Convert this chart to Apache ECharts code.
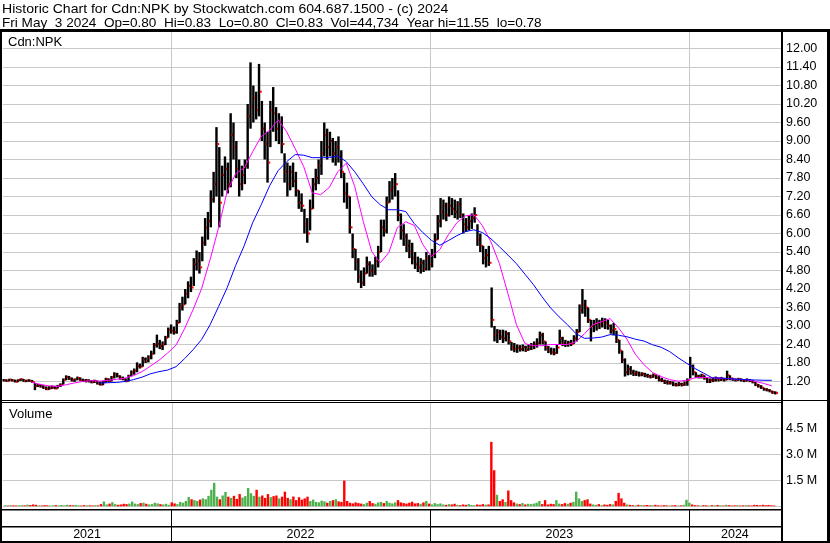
<!DOCTYPE html>
<html><head><meta charset="utf-8">
<script src="https://cdn.jsdelivr.net/npm/echarts@6/dist/echarts.min.js"></script>
<style>html,body{margin:0;padding:0;background:#fff}#c{width:830px;height:543px}</style>
</head><body><div id="c"></div>
<script>
const titleLine1 = 'Historic Chart for Cdn:NPK by Stockwatch.com 604.687.1500 - (c) 2024';
const titleLine2 = 'Fri May  3 2024  Op=0.80  Hi=0.83  Lo=0.80  Cl=0.83  Vol=44,734  Year hi=11.55  lo=0.78';
const symbolLabel = 'Cdn:NPK';
const volumeLabel = 'Volume';
const axisStart = '2021-05-09', axisEnd = '2024-05-10';
const sampleStart = '2021-05-10', sampleStepDays = 4;

const hi = [1.28,1.27,1.29,1.28,1.26,1.27,1.30,1.28,1.26,1.27,1.25,
1.15,1.12,1.10,1.08,1.04,1.05,1.07,1.06,1.09,1.14,
1.30,1.40,1.38,1.33,1.30,1.36,1.33,1.29,1.28,1.27,1.25,1.26,1.23,1.20,1.22,
1.32,1.30,1.38,1.50,1.48,1.40,1.36,1.30,1.42,1.56,
1.62,1.82,1.78,2.00,1.98,2.05,2.20,2.45,2.72,2.55,2.50,
2.68,2.95,3.05,2.98,3.20,3.75,3.95,4.20,4.45,4.60,5.20,5.45,5.40,
5.90,6.50,6.70,7.40,8.00,9.45,8.80,8.20,8.50,8.30,9.90,
9.60,9.00,8.40,8.20,8.40,10.20,11.55,10.80,10.60,11.50,10.30,9.60,9.30,10.30,10.75,
10.10,9.90,9.80,8.60,8.30,8.20,8.30,8.00,7.40,7.30,6.80,6.50,7.10,7.80,8.10,
8.40,9.00,9.60,9.40,9.30,9.10,9.00,9.15,8.70,7.97,7.65,7.20,6.00,5.50,5.20,
4.80,4.90,5.25,5.10,5.00,5.25,5.60,6.45,6.45,7.20,7.70,7.80,7.96,7.40,6.65,
6.30,6.00,5.80,5.70,5.40,5.25,5.20,5.15,5.40,5.30,5.50,6.00,6.60,7.15,7.10,
7.00,7.20,7.15,7.10,7.05,7.15,6.65,6.50,6.60,6.65,6.85,6.30,6.00,5.60,5.50,5.60,
4.25,3.00,2.90,2.88,
2.88,2.85,2.80,2.48,2.45,2.40,2.38,2.40,2.36,2.40,2.45,2.50,2.60,2.82,2.78,2.50,2.35,2.30,2.28,2.40,
2.88,2.65,2.55,2.52,2.55,2.70,2.90,3.70,4.20,3.85,3.60,3.20,3.20,3.25,3.20,3.27,3.25,3.20,3.05,3.10,
2.85,2.55,2.20,1.95,1.75,1.70,1.58,1.55,1.52,1.50,1.48,1.45,1.42,1.46,1.42,1.40,1.32,1.26,1.24,1.22,1.20,1.16,1.18,1.16,1.20,
1.30,2.00,1.75,1.50,1.42,1.45,1.40,1.32,1.30,1.32,1.36,1.33,1.35,1.32,1.55,1.40,1.32,1.30,1.32,1.30,1.28,1.30,1.28,1.25,1.18,1.12,1.08,1.00,0.98,0.95,0.90,0.88];

const lo = [1.20,1.19,1.21,1.20,1.17,1.18,1.22,1.19,1.18,1.19,1.16,
0.92,1.02,1.00,0.96,0.92,0.93,0.96,0.95,0.97,1.02,
1.10,1.24,1.25,1.20,1.19,1.24,1.22,1.19,1.17,1.17,1.14,1.15,1.10,1.07,1.08,
1.16,1.18,1.20,1.30,1.33,1.26,1.24,1.18,1.20,1.38,
1.42,1.50,1.62,1.68,1.80,1.82,1.92,2.08,2.30,2.25,2.22,
2.38,2.62,2.75,2.72,2.75,3.10,3.50,3.70,3.90,4.10,4.30,4.80,4.70,
5.10,5.60,5.80,6.20,7.00,7.20,6.20,7.20,7.40,7.30,7.50,
8.40,7.80,7.20,7.40,7.60,8.10,9.40,9.60,9.70,9.80,9.00,8.40,7.65,8.80,9.30,
9.00,8.90,8.60,7.65,7.20,7.40,7.50,7.20,6.80,6.70,6.00,5.70,6.10,6.80,7.40,
7.60,7.90,8.50,8.40,8.50,8.30,8.20,8.30,7.80,7.00,6.80,6.00,5.20,4.80,4.40,
4.23,4.30,4.70,4.60,4.60,4.65,4.90,5.40,5.90,6.00,7.00,7.10,7.20,6.40,5.80,
5.60,5.40,5.20,5.00,4.85,4.75,4.70,4.75,4.80,4.80,4.90,5.20,5.80,6.20,6.45,
6.40,6.55,6.60,6.50,6.45,6.50,6.00,6.05,6.10,6.15,6.35,5.60,5.40,5.00,4.90,4.95,
2.95,2.50,2.45,2.55,
2.45,2.50,2.40,2.20,2.15,2.13,2.17,2.18,2.16,2.20,2.22,2.25,2.30,2.40,2.40,2.20,2.12,2.07,2.05,2.10,
2.40,2.35,2.32,2.33,2.35,2.42,2.50,2.80,3.40,3.30,3.10,2.50,2.80,2.85,2.90,2.95,2.90,2.88,2.75,2.70,
2.45,2.10,1.80,1.36,1.40,1.42,1.38,1.38,1.36,1.37,1.34,1.32,1.30,1.32,1.28,1.20,1.18,1.12,1.10,1.10,1.05,1.04,1.05,1.04,1.06,
1.06,1.30,1.40,1.32,1.30,1.30,1.26,1.15,1.15,1.18,1.20,1.20,1.22,1.20,1.24,1.24,1.22,1.20,1.22,1.20,1.18,1.20,1.18,1.14,1.05,1.00,0.96,0.90,0.88,0.85,0.80,0.78];

const cl = [1.24,1.22,1.26,1.23,1.19,1.25,1.27,1.21,1.24,1.22,1.18,
1.05,1.08,1.04,0.99,0.95,0.98,1.02,0.97,1.06,1.10,
1.26,1.35,1.30,1.24,1.27,1.31,1.25,1.22,1.24,1.20,1.18,1.21,1.13,1.10,1.18,
1.28,1.22,1.34,1.44,1.37,1.30,1.27,1.21,1.38,1.50,
1.55,1.70,1.68,1.92,1.86,1.98,2.10,2.38,2.42,2.35,2.40,
2.62,2.88,2.85,2.80,3.10,3.60,3.70,4.05,4.30,4.25,5.00,5.10,4.90,
5.70,6.20,6.40,7.10,7.60,8.90,7.00,7.90,8.10,7.60,9.20,
8.80,8.10,7.60,7.90,8.20,9.80,10.10,10.40,10.00,10.60,9.40,8.90,8.30,10.00,9.90,
9.40,9.60,8.90,8.00,7.60,8.00,7.70,7.40,7.00,6.90,6.30,6.00,6.80,7.60,7.80,
8.20,8.60,9.20,8.80,9.00,8.60,8.80,8.50,8.00,7.30,7.20,6.20,5.50,5.10,4.60,
4.40,4.70,5.00,4.80,4.75,5.10,5.40,6.20,6.10,7.00,7.40,7.50,7.60,6.60,6.10,
5.90,5.60,5.40,5.20,5.00,4.90,5.05,4.85,5.20,5.00,5.30,5.80,6.40,6.70,6.90,
6.60,6.90,6.80,6.70,6.95,6.60,6.30,6.20,6.40,6.50,6.60,5.80,5.60,5.20,5.30,5.05,
3.20,2.70,2.80,2.65,
2.60,2.75,2.50,2.30,2.25,2.30,2.25,2.32,2.22,2.30,2.35,2.40,2.45,2.70,2.50,2.30,2.20,2.15,2.12,2.30,
2.60,2.45,2.40,2.45,2.42,2.60,2.80,3.50,3.70,3.60,3.20,3.00,3.05,3.10,3.05,3.15,3.10,3.00,2.85,2.90,
2.55,2.20,1.90,1.50,1.60,1.50,1.45,1.48,1.42,1.45,1.40,1.38,1.35,1.40,1.33,1.25,1.22,1.18,1.15,1.16,1.10,1.08,1.12,1.09,1.15,
1.25,1.70,1.50,1.38,1.35,1.40,1.30,1.20,1.25,1.24,1.30,1.25,1.28,1.26,1.40,1.30,1.26,1.25,1.28,1.24,1.22,1.25,1.22,1.18,1.10,1.05,1.00,0.95,0.92,0.88,0.85,0.83];

// volume in millions of shares
const volM = [0.05,0.04,0.06,0.05,0.04,0.05,0.06,0.05,0.09,0.07,
0.10,0.08,0.05,0.04,0.06,0.05,0.04,0.05,0.06,0.05,
0.07,0.05,0.08,0.06,0.05,0.07,0.05,0.04,0.06,0.05,
0.05,0.04,0.06,0.05,0.12,0.27,
0.10,0.15,0.23,0.12,0.08,0.10,0.14,0.12,0.15,0.27,
0.15,0.12,0.18,0.20,0.14,0.10,0.12,0.20,0.16,0.12,
0.10,0.14,0.08,0.22,0.16,0.12,0.25,0.20,0.30,0.53,
0.40,0.35,0.30,0.38,0.45,0.40,0.60,0.95,1.35,0.55,
0.40,0.62,0.82,0.55,0.48,0.60,0.42,0.70,0.50,0.58,
1.05,0.75,0.60,0.95,0.55,0.62,0.48,0.70,0.52,0.58,
0.62,0.45,0.55,0.84,0.48,0.40,0.56,0.35,0.52,0.38,
0.45,0.55,0.30,0.38,0.25,0.22,0.32,0.28,0.20,0.30,
0.35,0.40,0.28,0.25,1.48,0.30,0.20,0.16,0.22,0.18,
0.15,0.12,0.20,0.30,0.18,0.14,0.22,0.25,0.18,0.30,
0.20,0.16,0.22,0.35,0.22,0.18,0.15,0.20,0.26,0.16,
0.18,0.14,0.22,0.30,0.15,0.10,0.18,0.12,0.16,0.10,
0.08,0.12,0.10,0.14,0.08,0.06,0.10,0.08,0.12,0.07,
0.06,0.10,0.08,0.12,0.09,0.10,
3.72,2.08,0.66,
0.30,0.40,0.25,0.91,0.35,0.22,0.15,0.12,0.18,0.10,0.14,
0.12,0.15,0.20,0.30,0.12,0.35,0.10,0.14,0.12,0.35,
0.15,0.12,0.18,0.14,0.20,0.25,0.84,0.45,0.30,0.35,
0.40,0.15,0.10,0.08,0.12,0.06,0.10,0.08,0.12,0.10,
0.30,0.77,0.45,0.20,0.10,0.08,0.06,0.05,0.08,0.06,
0.05,0.07,0.05,0.06,0.08,0.05,0.04,0.06,0.05,0.04,
0.05,0.06,0.04,0.05,0.08,0.37,0.20,0.10,0.06,0.05,
0.04,0.06,0.05,0.04,0.06,0.05,0.07,0.05,0.04,0.08,
0.06,0.04,0.05,0.06,0.04,0.05,0.06,0.05,0.04,0.08,
0.07,0.05,0.08,0.06,0.07,0.05,0.04];

const maStepDays = 12;
const maFastStart = '2021-06-18';
const maFast = [1.18,1.11,1.06,1.04,1.09,1.15,1.20,1.23,1.21,1.24,
1.27,1.31,1.39,1.52,1.70,1.89,2.12,2.38,2.91,3.53,
4.21,5.15,6.19,7.36,7.94,8.12,8.65,9.14,9.35,9.69,
9.30,8.75,8.17,7.32,7.26,7.49,8.00,8.28,7.52,6.39,
5.41,5.05,5.38,6.19,6.38,6.26,5.64,5.25,5.48,5.96,
6.35,6.57,6.61,6.25,5.73,5.02,4.05,3.04,2.43,2.36,
2.36,2.40,2.40,2.40,2.49,2.75,3.04,3.14,3.24,2.94,
2.56,2.07,1.74,1.49,1.36,1.26,1.21,1.24,1.32,1.33,
1.32,1.31,1.29,1.27,1.26,1.21,1.14,1.06];
const maSlowStart = '2021-09-22';
const maSlow = [1.15,1.16,1.17,1.20,1.26,1.34,1.45,1.52,1.57,1.68,
1.94,2.23,2.56,3.04,3.63,4.24,4.96,5.60,6.35,6.93,
7.55,8.04,8.33,8.56,8.54,8.46,8.46,8.46,8.52,8.33,
8.00,7.61,7.19,6.93,6.77,6.77,6.71,6.32,6.03,5.78,
5.62,5.77,5.93,6.06,6.12,6.03,5.83,5.57,5.30,5.02,
4.68,4.34,3.95,3.59,3.30,3.04,2.75,2.60,2.61,2.64,
2.72,2.70,2.65,2.57,2.51,2.39,2.31,2.17,1.97,1.79,
1.62,1.47,1.32,1.31,1.29,1.27,1.26,1.25,1.24,1.24];

const yearLabels = ['2021','2022','2023','2024'];
const yearStarts = ['2021-01-01','2022-01-01','2023-01-01','2024-01-01','2025-01-01'];
const priceMin = 0.6, priceMax = 12.6, priceStep = 0.6;
const volMax = 6, volStep = 1.5;

// ---------- build ----------
const DAY = 86400000;
const ts = s => +new Date(s + 'T00:00:00');
const xMin = ts(axisStart), xMax = ts(axisEnd);
const t0 = ts(sampleStart);
const stepMs = sampleStepDays * DAY;
const priceData = hi.map((h, i) => [t0 + i * stepMs, h, lo[i], cl[i]]);
const GREEN = '#4cb04c', RED = '#ff0000', GREY = '#a8a8a8';
const volData = volM.map((v, i) => {
  const c = i === 0 ? GREEN : (cl[i] > cl[i - 1] ? GREEN : (cl[i] < cl[i - 1] ? RED : GREY));
  return { value: [t0 + i * stepMs, v * 1e6], itemStyle: { color: c } };
});
const fastData = maFast.map((v, k) => [ts(maFastStart) + k * maStepDays * DAY, v]);
const slowData = maSlow.map((v, k) => [ts(maSlowStart) + k * maStepDays * DAY, v]);
const boundaryData = yearStarts.slice(1, -1).map(s => [ts(s)]);
const yearSegData = yearLabels.map((y, i) => [ts(yearStarts[i]), ts(yearStarts[i + 1]), y]);

const FONT = '"Liberation Sans", Arial, sans-serif';
const GRIDC = '#c8c8c8';

const chart = echarts.init(document.getElementById('c'), null, { renderer: 'canvas' });

function vLine(color) {
  return function (params, api) {
    const cs = params.coordSys;
    const x = Math.round(api.coord([api.value(0), 0])[0]) + 0.5;
    return { type: 'line', shape: { x1: x, y1: cs.y, x2: x, y2: cs.y + cs.height },
      style: { stroke: color, lineWidth: 1 } };
  };
}

const xAxisBase = { type: 'time', min: xMin, max: xMax, show: false };

const option = {
  animation: false,
  backgroundColor: '#fff',
  grid: [
    { left: 3, top: 30, width: 778, height: 370 },
    { left: 3, top: 402.4, width: 778, height: 103.8 },
    { left: 3, top: 510, width: 778, height: 31 }
  ],
  xAxis: [
    Object.assign({ gridIndex: 0 }, xAxisBase),
    Object.assign({ gridIndex: 1 }, xAxisBase),
    Object.assign({ gridIndex: 2 }, xAxisBase)
  ],
  yAxis: [
    { gridIndex: 0, type: 'value', position: 'right', min: priceMin, max: priceMax, interval: priceStep,
      axisLine: { show: false }, axisTick: { show: false },
      axisLabel: { margin: 5, color: '#000', fontFamily: FONT, fontSize: 12.5,
        formatter: v => (v < 1 || v > 12.3) ? '' : v.toFixed(2) },
      splitLine: { lineStyle: { color: GRIDC, width: 1 } } },
    { gridIndex: 1, type: 'value', position: 'right', min: 0, max: volMax * 1e6, interval: volStep * 1e6,
      axisLine: { show: false }, axisTick: { show: false },
      axisLabel: { margin: 5, color: '#000', fontFamily: FONT, fontSize: 12.5,
        formatter: v => (v <= 0 || v >= volMax * 1e6 - 1) ? '' : (v / 1e6).toFixed(1) + ' M' },
      splitLine: { lineStyle: { color: GRIDC, width: 1 } } },
    { gridIndex: 2, type: 'value', min: 0, max: 1, show: false }
  ],
  series: [
    { type: 'custom', xAxisIndex: 0, yAxisIndex: 0, data: boundaryData, renderItem: vLine(GRIDC), silent: true, z: 1 },
    { type: 'custom', xAxisIndex: 1, yAxisIndex: 1, data: boundaryData, renderItem: vLine(GRIDC), silent: true, z: 1 },
    { type: 'custom', xAxisIndex: 2, yAxisIndex: 2, data: boundaryData, renderItem: vLine('#000'), silent: true, z: 1 },
    { type: 'custom', xAxisIndex: 2, yAxisIndex: 2, data: yearSegData, silent: true, z: 3,
      renderItem: function (params, api) {
        const cs = params.coordSys;
        const a = Math.max(api.coord([api.value(0), 0])[0], cs.x);
        const b = Math.min(api.coord([api.value(1), 0])[0], cs.x + cs.width);
        return { type: 'text', style: { x: (a + b) / 2, y: cs.y + 25, text: yearLabels[params.dataIndex],
          fill: '#000', font: '12.5px ' + FONT, align: 'center', verticalAlign: 'middle' } };
      } },
    { type: 'custom', name: 'price', xAxisIndex: 0, yAxisIndex: 0, data: priceData, z: 4, silent: true,
      encode: { x: 0, y: [1, 2, 3] },
      renderItem: function (params, api) {
        const x = api.value(0);
        const pH = api.coord([x, api.value(1)]);
        const pL = api.coord([x, api.value(2)]);
        const pC = api.coord([x, api.value(3)]);
        const w = api.size([stepMs, 0])[0];
        const bw = Math.max(1, w * 0.85);
        return { type: 'group', children: [
          { type: 'rect', shape: { x: pH[0] - bw / 2, y: pH[1], width: bw, height: Math.max(1.5, pL[1] - pH[1]) },
            style: { fill: '#000' } },
          { type: 'rect', shape: { x: pH[0] + bw / 2 - 0.5, y: pC[1] - 1, width: 2, height: 2 },
            style: { fill: RED } }
        ] };
      } },
    { type: 'line', name: 'fast MA', xAxisIndex: 0, yAxisIndex: 0, data: fastData, showSymbol: false, z: 5,
      lineStyle: { color: '#ff00ff', width: 1 }, silent: true },
    { type: 'line', name: 'slow MA', xAxisIndex: 0, yAxisIndex: 0, data: slowData, showSymbol: false, z: 5,
      lineStyle: { color: '#0000ff', width: 1 }, silent: true },
    { type: 'bar', name: 'volume', xAxisIndex: 1, yAxisIndex: 1, data: volData, barWidth: 2.4, z: 4, silent: true }
  ],
  graphic: [
    { type: 'text', x: 2, y: 3, scaleX: 1.08, z: 100,
      style: { text: titleLine1, font: '13px ' + FONT, fill: '#000', verticalAlign: 'top' } },
    { type: 'text', x: 2, y: 16.5, scaleX: 1.045, z: 100,
      style: { text: titleLine2, font: '13px ' + FONT, fill: '#000', verticalAlign: 'top' } },
    { type: 'text', x: 8, y: 35.5, z: 100,
      style: { text: symbolLabel, font: '13px ' + FONT, fill: '#000', verticalAlign: 'top' } },
    { type: 'text', x: 9, y: 407.5, z: 100,
      style: { text: volumeLabel, font: '13px ' + FONT, fill: '#000', verticalAlign: 'top' } },
    // frame
    { type: 'rect', z: 100, shape: { x: 0, y: 29, width: 830, height: 3 }, style: { fill: '#000' } },
    { type: 'rect', z: 100, shape: { x: 0, y: 29, width: 2, height: 514 }, style: { fill: '#000' } },
    { type: 'rect', z: 100, shape: { x: 827, y: 29, width: 3, height: 514 }, style: { fill: '#000' } },
    { type: 'rect', z: 100, shape: { x: 0, y: 541, width: 830, height: 2 }, style: { fill: '#000' } },
    { type: 'rect', z: 100, shape: { x: 781, y: 29, width: 2, height: 514 }, style: { fill: '#000' } },
    { type: 'rect', z: 100, shape: { x: 0, y: 400, width: 830, height: 1 }, style: { fill: '#000' } },
    { type: 'rect', z: 100, shape: { x: 0, y: 402, width: 783, height: 1 }, style: { fill: '#000' } },
    { type: 'rect', z: 100, shape: { x: 0, y: 509, width: 783, height: 1.5 }, style: { fill: '#000' } },
    { type: 'rect', z: 100, shape: { x: 0, y: 526, width: 783, height: 1.5 }, style: { fill: '#000' } }
  ]
};
chart.setOption(option);
</script>
</body></html>
